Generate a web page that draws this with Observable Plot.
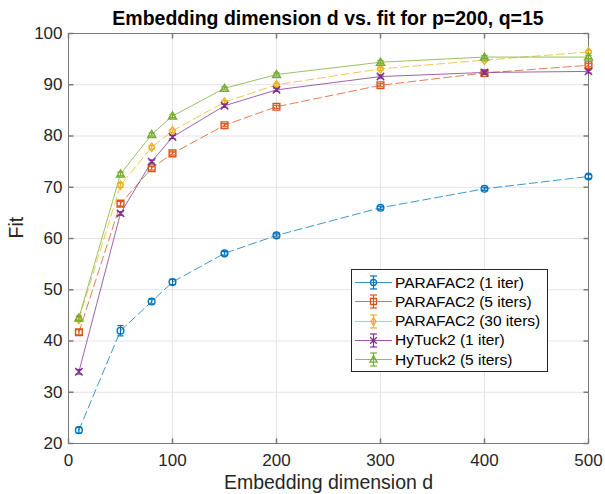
<!DOCTYPE html>
<html>
<head>
<meta charset="utf-8">
<script src="https://cdn.jsdelivr.net/npm/d3@7"></script>
<script src="https://cdn.jsdelivr.net/npm/@observablehq/plot@0.6"></script>
<style>
  html, body { margin: 0; padding: 0; background: #fff; }
  #wrap { position: relative; width: 605px; height: 494px; font-family: "Liberation Sans", Arial, Helvetica, sans-serif; }
  #title { position: absolute; left: 0; top: 0; width: 605px; box-sizing: border-box; padding: 8px 17px 0 68px; text-align: center; font-weight: bold; font-size: 19.5px; line-height: 20px; color: #000; white-space: nowrap; z-index: 2; }
  #legend { position: absolute; left: 351px; top: 269px; width: 197px; height: 103px; box-sizing: border-box; border: 1px solid #262626; background: #fff; }
  #legend .row { position: absolute; left: 0; height: 19px; display: flex; align-items: center; }
  #legend .lbl { font-size: 15.5px; color: #000; margin-left: 0px; white-space: nowrap; }
</style>
</head>
<body>
<div id="wrap">
  <div id="title">Embedding dimension d vs. fit for p=200, q=15</div>
  <div id="chart"></div>
  <div id="legend"></div>
</div>
<script>
// ---- data ----
const dims = [10, 50, 80, 100, 150, 200, 300, 400, 500];
const seriesNames = ["PARAFAC2 (1 iter)", "PARAFAC2 (5 iters)", "PARAFAC2 (30 iters)", "HyTuck2 (1 iter)", "HyTuck2 (5 iters)"];
const fitParafac1 = [22.6, 42.0, 47.7, 51.5, 57.1, 60.6, 66.0, 69.7, 72.1];
const fitParafac5 = [41.7, 66.8, 73.7, 76.6, 82.1, 85.7, 89.9, 92.3, 93.8];
const fitParafac30 = [44.2, 70.4, 77.8, 81.0, 86.6, 90.0, 93.1, 94.8, 96.4];
const fitHytuck1 = [34.0, 64.9, 75.0, 79.8, 85.9, 89.0, 91.6, 92.4, 92.6];
const fitHytuck5 = [44.5, 72.6, 80.3, 83.9, 89.3, 92.0, 94.4, 95.4, 95.4];
const errParafac1 = [0.55, 1.0, 0.45, 0.5, 0.35, 0.3, 0.3, 0.3, 0.35];
const errParafac5 = [0.5, 0.45, 0.35, 0.3, 0.3, 0.3, 0.3, 0.3, 0.3];
const errParafac30 = [0.4, 0.4, 0.35, 0.3, 0.3, 0.3, 0.3, 0.3, 0.3];
const errHytuck1 = [0.45, 0.35, 0.3, 0.3, 0.3, 0.3, 0.3, 0.3, 0.3];
const errHytuck5 = [0.4, 0.35, 0.3, 0.3, 0.3, 0.3, 0.3, 0.3, 0.3];
const xTicks = [0, 100, 200, 300, 400, 500];
const yTicks = [20, 30, 40, 50, 60, 70, 80, 90, 100];
const xLabel = "Embedding dimension d";
const yLabel = "Fit";

// ---- styles ----
const colors = ["#0072BD", "#D95319", "#EDB120", "#7E2F8E", "#77AC30"];
const dashed = [true, true, true, false, false];
const fits = [fitParafac1, fitParafac5, fitParafac30, fitHytuck1, fitHytuck5];
const errs = [errParafac1, errParafac5, errParafac30, errHytuck1, errHytuck5];

const symTimes = { draw(ctx, size) { const r = Math.sqrt(size) * 0.55; ctx.moveTo(-r, -r); ctx.lineTo(r, r); ctx.moveTo(r, -r); ctx.lineTo(-r, r); } };
const symSquare = { draw(ctx, size) { const r = Math.sqrt(size) * 0.5; ctx.moveTo(-r, -r); ctx.lineTo(r, -r); ctx.lineTo(r, r); ctx.lineTo(-r, r); ctx.closePath(); } };
const symDiamond = { draw(ctx, size) { const r = Math.sqrt(size) * 0.62; const w = r * 0.72; ctx.moveTo(0, -r); ctx.lineTo(w, 0); ctx.lineTo(0, r); ctx.lineTo(-w, 0); ctx.closePath(); } };
const symTriangle = { draw(ctx, size) { const r = Math.sqrt(size) * 0.6; ctx.moveTo(0, -r); ctx.lineTo(r, r * 0.75); ctx.lineTo(-r, r * 0.75); ctx.closePath(); } };
const symCircle = { draw(ctx, size) { const r = Math.sqrt(size) * 0.5; ctx.moveTo(r, 0); ctx.arc(0, 0, r, 0, 2 * Math.PI); } };
const symbols = [symCircle, symSquare, symDiamond, symTimes, symTriangle];
const capSym = { draw(ctx, size) { const r = Math.sqrt(size) * 0.5; ctx.moveTo(-r, 0); ctx.lineTo(r, 0); } };
const tickUp = { draw(ctx) { ctx.moveTo(0, 0); ctx.lineTo(0, -5); } };
const tickDown = { draw(ctx) { ctx.moveTo(0, 0); ctx.lineTo(0, 5); } };
const tickRight = { draw(ctx) { ctx.moveTo(0, 0); ctx.lineTo(5, 0); } };
const tickLeft = { draw(ctx) { ctx.moveTo(0, 0); ctx.lineTo(-5, 0); } };

const rows = [];
seriesNames.forEach((s, i) => dims.forEach((d, j) => rows.push({ series: s, idx: i, d, fit: fits[i][j], err: errs[i][j] })));

const marks = [
  Plot.gridX(xTicks, { stroke: "#e3e3e3", strokeOpacity: 1 }),
  Plot.gridY(yTicks, { stroke: "#e3e3e3", strokeOpacity: 1 }),
  Plot.frame({ stroke: "#7a7a7a" }),
  Plot.dot(xTicks, { x: d => d, frameAnchor: "bottom", symbol: tickUp, r: 3, stroke: "#7a7a7a", fill: "none" }),
  Plot.dot(xTicks, { x: d => d, frameAnchor: "top", symbol: tickDown, r: 3, stroke: "#7a7a7a", fill: "none" }),
  Plot.dot(yTicks, { y: d => d, frameAnchor: "left", symbol: tickRight, r: 3, stroke: "#7a7a7a", fill: "none" }),
  Plot.dot(yTicks, { y: d => d, frameAnchor: "right", symbol: tickLeft, r: 3, stroke: "#7a7a7a", fill: "none" }),
  Plot.axisX(xTicks, { tickSize: 0, tickPadding: 10, fontSize: 17, color: "#262626", label: null }),
  Plot.axisY(yTicks, { tickSize: 0, tickPadding: 6, fontSize: 17, color: "#262626", label: null }),
  Plot.text([xLabel], { text: d => d, frameAnchor: "bottom", lineAnchor: "middle", dy: 39, fontSize: 19.5, fill: "#262626" }),
  Plot.text([yLabel], { text: d => d, frameAnchor: "left", lineAnchor: "middle", dx: -52, rotate: -90, fontSize: 19.5, fill: "#262626" })
];

seriesNames.forEach((s, i) => {
  const data = rows.filter(r => r.idx === i);
  marks.push(Plot.line(data, { x: "d", y: "fit", stroke: colors[i], strokeWidth: 1, strokeOpacity: 0.75, strokeDasharray: dashed[i] ? "8,4" : null }));
});
seriesNames.forEach((s, i) => {
  const data = rows.filter(r => r.idx === i);
  marks.push(Plot.ruleX(data, { x: "d", y1: r => r.fit - r.err, y2: r => r.fit + r.err, stroke: colors[i], strokeWidth: 1.2 }));
  marks.push(Plot.dot(data, { x: "d", y: r => r.fit - r.err, symbol: capSym, r: 3.5, stroke: colors[i], strokeWidth: 1.2, fill: "none" }));
  marks.push(Plot.dot(data, { x: "d", y: r => r.fit + r.err, symbol: capSym, r: 3.5, stroke: colors[i], strokeWidth: 1.2, fill: "none" }));
  marks.push(Plot.dot(data, { x: "d", y: "fit", symbol: symbols[i], r: 3.8, stroke: colors[i], strokeWidth: 1.4, fill: "none" }));
});

const chart = Plot.plot({
  width: 605,
  height: 494,
  marginTop: 33,
  marginBottom: 51,
  marginLeft: 68,
  marginRight: 17,
  style: { fontFamily: '"Liberation Sans", Arial, Helvetica, sans-serif', fontSize: "19.5px", color: "#262626", background: "#fff" },
  x: { domain: [0, 500] },
  y: { domain: [20, 100] },
  marks
});
document.getElementById("chart").appendChild(chart);

// ---- legend (built from the same arrays) ----
const legend = d3.select("#legend");
seriesNames.forEach((s, i) => {
  const row = legend.append("div").attr("class", "row").style("top", (3 + i * 19.3) + "px");
  const svg = row.append("svg").attr("width", 43).attr("height", 19);
  svg.append("line").attr("x1", 3).attr("x2", 40).attr("y1", 9.5).attr("y2", 9.5)
    .attr("stroke", colors[i]).attr("stroke-opacity", 0.8).attr("stroke-width", 1);
  svg.append("line").attr("x1", 21.5).attr("x2", 21.5).attr("y1", 3).attr("y2", 16).attr("stroke", colors[i]).attr("stroke-width", 1.2);
  svg.append("line").attr("x1", 18).attr("x2", 25).attr("y1", 3).attr("y2", 3).attr("stroke", colors[i]).attr("stroke-width", 1.2);
  svg.append("line").attr("x1", 18).attr("x2", 25).attr("y1", 16).attr("y2", 16).attr("stroke", colors[i]).attr("stroke-width", 1.2);
  svg.append("path").attr("transform", "translate(21.5,9.5)")
    .attr("d", d3.symbol(symbols[i], 3.4 * 3.4 * Math.PI)())
    .attr("fill", "none").attr("stroke", colors[i]).attr("stroke-width", 1.3);
  row.append("span").attr("class", "lbl").text(s);
});
</script>
</body>
</html>
